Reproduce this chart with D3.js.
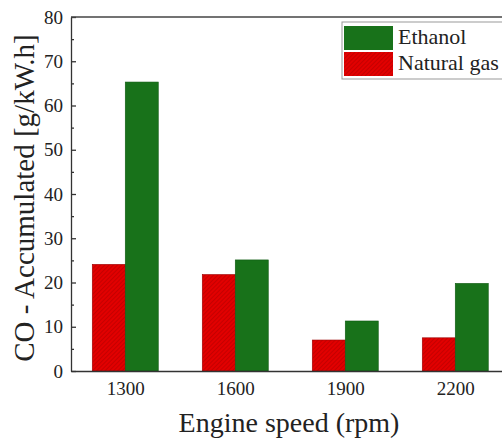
<!DOCTYPE html>
<html><head><meta charset="utf-8">
<script src="https://cdn.jsdelivr.net/npm/d3@7"></script>
<style>
body{margin:0;background:#fff;}
svg{display:block;}
svg text{font-family:"Liberation Serif","DejaVu Serif",serif;fill:#222;}
</style></head>
<body><div id="chart"></div>
<script>
/* CO accumulated, grouped bars (natural gas hatched red, ethanol green) */
var speeds=[1300,1600,1900,2200];
var naturalGas=[24.1,21.8,7.0,7.5];
var ethanol=[65.3,25.1,11.3,19.8];
var yTicks=[0,10,20,30,40,50,60,70,80];

var W=502,H=441;
var m={top:17,left:71,bottom:70};
var serif="Liberation Serif, DejaVu Serif, serif";
var svg=d3.select("#chart").append("svg").attr("width",W).attr("height",H);

var x=d3.scaleLinear().domain([1152,2352]).range([m.left,m.left+440]);
var y=d3.scaleLinear().domain([0,80]).range([H-m.bottom,m.top]);
var barW=x(1390)-x(1300);

var defs=svg.append("defs");
var pat=defs.append("pattern").attr("id","hatch").attr("patternUnits","userSpaceOnUse")
    .attr("width",3).attr("height",3).attr("patternTransform","rotate(45)");
pat.append("rect").attr("width",3).attr("height",3).attr("fill","#e20000");
pat.append("line").attr("x1",0).attr("y1",0).attr("x2",0).attr("y2",3)
    .attr("stroke","#a80000").attr("stroke-width",1);

// bars
svg.selectAll("rect.ng").data(speeds).enter().append("rect").attr("class","ng")
    .attr("x",function(d){return x(d)-barW;}).attr("width",barW)
    .attr("y",function(d,i){return y(naturalGas[i]);})
    .attr("height",function(d,i){return y(0)-y(naturalGas[i]);})
    .attr("fill","url(#hatch)").attr("stroke","#9a0000").attr("stroke-width",0.6);
svg.selectAll("rect.et").data(speeds).enter().append("rect").attr("class","et")
    .attr("x",function(d){return x(d);}).attr("width",barW)
    .attr("y",function(d,i){return y(ethanol[i]);})
    .attr("height",function(d,i){return y(0)-y(ethanol[i]);})
    .attr("fill","#18721a").attr("stroke","#0f5a12").attr("stroke-width",0.6);

// axes
svg.append("g").attr("transform","translate("+m.left+",0)")
    .call(d3.axisLeft(y).tickValues(yTicks).tickSizeInner(-5).tickSizeOuter(0).tickPadding(8))
    .attr("font-family",serif).attr("font-size",19);
svg.append("g").attr("transform","translate("+m.left+",0)")
    .call(d3.axisLeft(y).tickValues(d3.range(5,80,10)).tickSize(-3).tickFormat(""))
    .select(".domain").remove();
svg.append("g").attr("transform","translate(0,"+y(0)+")")
    .call(d3.axisBottom(x).tickValues(speeds).tickSize(0).tickPadding(11).tickFormat(d3.format("d")))
    .attr("font-family",serif).attr("font-size",19);
svg.selectAll(".domain,.tick line").attr("stroke","#333").attr("stroke-width",1.3);
svg.append("line").attr("x1",m.left).attr("x2",W).attr("y1",y(80)).attr("y2",y(80))
    .attr("stroke","#444").attr("stroke-width",1.3);

// titles
svg.append("text").attr("transform","translate(34,198) rotate(-90)")
    .attr("text-anchor","middle").attr("font-size",29)
    .text("CO - Accumulated [g/kW.h]");
svg.append("text").attr("x",289).attr("y",432).attr("text-anchor","middle")
    .attr("font-size",28).text("Engine speed (rpm)");

// legend
var lg=svg.append("g").attr("transform","translate(342,22)");
lg.append("rect").attr("width",170).attr("height",57).attr("fill","#fff").attr("stroke","#999");
var items=[{name:"Ethanol",fill:"#18721a"},{name:"Natural gas",fill:"url(#hatch)"}];
items.forEach(function(it,i){
    lg.append("rect").attr("x",2).attr("y",4+i*26).attr("width",49).attr("height",24).attr("fill",it.fill);
    lg.append("text").attr("x",56).attr("y",22+i*26).attr("font-size",22).text(it.name);
});
</script></body></html>
